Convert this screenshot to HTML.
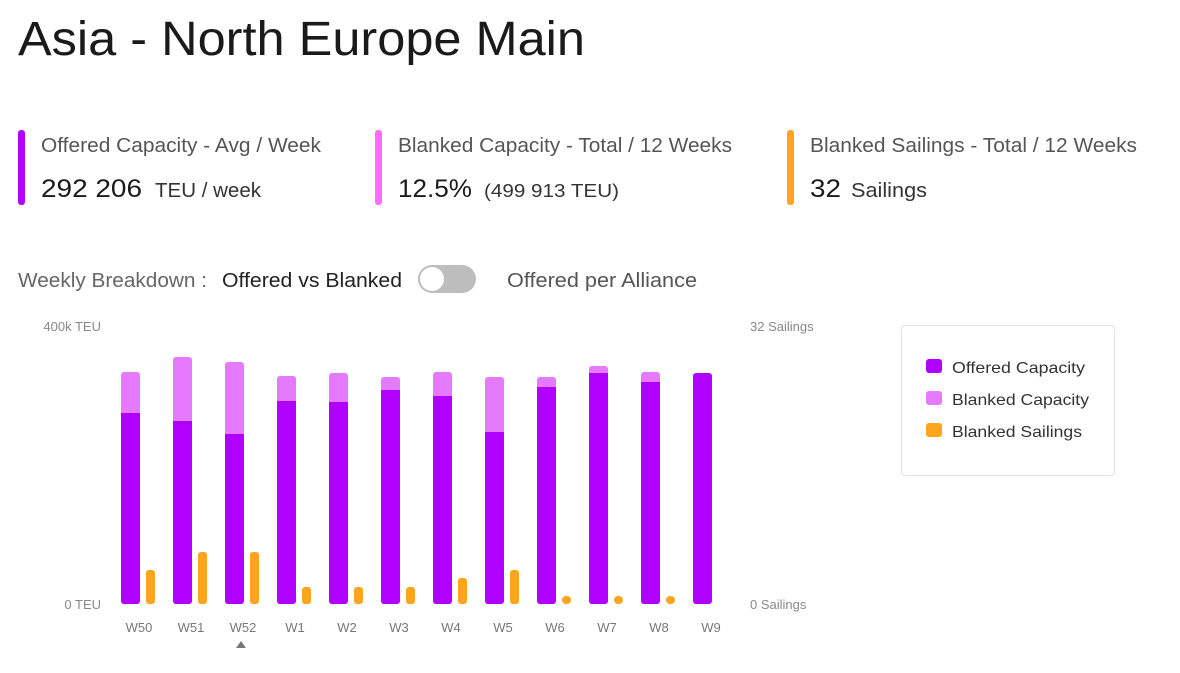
<!DOCTYPE html>
<html><head><meta charset="utf-8"><style>
html,body{margin:0;padding:0;background:#fff;}
svg{display:block;font-family:"Liberation Sans",sans-serif;}
</style></head><body>
<svg width="1180" height="673" viewBox="0 0 1180 673" xmlns="http://www.w3.org/2000/svg">
<text x="18" y="55" font-size="48" fill="#1a1a1a" textLength="567" lengthAdjust="spacingAndGlyphs">Asia - North Europe Main</text>

<rect x="18" y="130" width="7" height="75" rx="3" fill="#b300ff"/>
<text x="41" y="152" font-size="20" fill="#555" textLength="280" lengthAdjust="spacingAndGlyphs">Offered Capacity - Avg / Week</text>
<text x="41" y="197" font-size="25" fill="#1a1a1a" textLength="101" lengthAdjust="spacingAndGlyphs">292 206</text>
<text x="155" y="197" font-size="20" fill="#333" textLength="106" lengthAdjust="spacingAndGlyphs">TEU / week</text>

<rect x="375" y="130" width="7" height="75" rx="3" fill="#ff6bff"/>
<text x="398" y="152" font-size="20" fill="#555" textLength="334" lengthAdjust="spacingAndGlyphs">Blanked Capacity - Total / 12 Weeks</text>
<text x="398" y="197" font-size="25" fill="#1a1a1a" textLength="74" lengthAdjust="spacingAndGlyphs">12.5%</text>
<text x="484" y="197" font-size="18" fill="#333" textLength="135" lengthAdjust="spacingAndGlyphs">(499 913 TEU)</text>

<rect x="787" y="130" width="7" height="75" rx="3" fill="#ffa41f"/>
<text x="810" y="152" font-size="20" fill="#555" textLength="327" lengthAdjust="spacingAndGlyphs">Blanked Sailings - Total / 12 Weeks</text>
<text x="810" y="197" font-size="25" fill="#1a1a1a" textLength="31" lengthAdjust="spacingAndGlyphs">32</text>
<text x="851" y="197" font-size="20" fill="#333" textLength="76" lengthAdjust="spacingAndGlyphs">Sailings</text>

<text x="18" y="287" font-size="20" fill="#666" textLength="189" lengthAdjust="spacingAndGlyphs">Weekly Breakdown :</text>
<text x="222" y="287" font-size="20" fill="#222" textLength="180" lengthAdjust="spacingAndGlyphs">Offered vs Blanked</text>
<rect x="418" y="265" width="58" height="28" rx="14" fill="#bdbdbd"/>
<circle cx="432" cy="279" r="12" fill="#fff"/>
<text x="507" y="287" font-size="20" fill="#555" textLength="190" lengthAdjust="spacingAndGlyphs">Offered per Alliance</text>

<g font-size="13" fill="#888">
<text x="101" y="331" text-anchor="end">400k TEU</text>
<text x="101" y="609" text-anchor="end">0 TEU</text>
<text x="750" y="331">32 Sailings</text>
<text x="750" y="609">0 Sailings</text>
</g>

<g id="bars">
<!-- W50 --><rect x="121" y="372" width="19" height="232" rx="3" fill="#e67aff"/><rect x="121" y="413" width="19" height="191" rx="3" fill="#b000ff"/><rect x="121" y="413" width="19" height="5" fill="#b000ff"/><rect x="146" y="570" width="9" height="34" rx="3" fill="#ffa41f"/>
<!-- W51 --><rect x="173" y="357" width="19" height="247" rx="3" fill="#e67aff"/><rect x="173" y="421" width="19" height="183" rx="3" fill="#b000ff"/><rect x="173" y="421" width="19" height="5" fill="#b000ff"/><rect x="198" y="552" width="9" height="52" rx="3" fill="#ffa41f"/>
<!-- W52 --><rect x="225" y="362" width="19" height="242" rx="3" fill="#e67aff"/><rect x="225" y="434" width="19" height="170" rx="3" fill="#b000ff"/><rect x="225" y="434" width="19" height="5" fill="#b000ff"/><rect x="250" y="552" width="9" height="52" rx="3" fill="#ffa41f"/>
<!-- W1 --><rect x="277" y="376" width="19" height="228" rx="3" fill="#e67aff"/><rect x="277" y="401" width="19" height="203" rx="3" fill="#b000ff"/><rect x="277" y="401" width="19" height="5" fill="#b000ff"/><rect x="302" y="587" width="9" height="17" rx="3" fill="#ffa41f"/>
<!-- W2 --><rect x="329" y="373" width="19" height="231" rx="3" fill="#e67aff"/><rect x="329" y="402" width="19" height="202" rx="3" fill="#b000ff"/><rect x="329" y="402" width="19" height="5" fill="#b000ff"/><rect x="354" y="587" width="9" height="17" rx="3" fill="#ffa41f"/>
<!-- W3 --><rect x="381" y="377" width="19" height="227" rx="3" fill="#e67aff"/><rect x="381" y="390" width="19" height="214" rx="3" fill="#b000ff"/><rect x="381" y="390" width="19" height="5" fill="#b000ff"/><rect x="406" y="587" width="9" height="17" rx="3" fill="#ffa41f"/>
<!-- W4 --><rect x="433" y="372" width="19" height="232" rx="3" fill="#e67aff"/><rect x="433" y="396" width="19" height="208" rx="3" fill="#b000ff"/><rect x="433" y="396" width="19" height="5" fill="#b000ff"/><rect x="458" y="578" width="9" height="26" rx="3" fill="#ffa41f"/>
<!-- W5 --><rect x="485" y="377" width="19" height="227" rx="3" fill="#e67aff"/><rect x="485" y="432" width="19" height="172" rx="3" fill="#b000ff"/><rect x="485" y="432" width="19" height="5" fill="#b000ff"/><rect x="510" y="570" width="9" height="34" rx="3" fill="#ffa41f"/>
<!-- W6 --><rect x="537" y="377" width="19" height="227" rx="3" fill="#e67aff"/><rect x="537" y="387" width="19" height="217" rx="3" fill="#b000ff"/><rect x="537" y="387" width="19" height="5" fill="#b000ff"/><rect x="562" y="596" width="9" height="8" rx="4" fill="#ffa41f"/>
<!-- W7 --><rect x="589" y="366" width="19" height="238" rx="3" fill="#e67aff"/><rect x="589" y="373" width="19" height="231" rx="3" fill="#b000ff"/><rect x="589" y="373" width="19" height="4" fill="#b000ff"/><rect x="614" y="596" width="9" height="8" rx="4" fill="#ffa41f"/>
<!-- W8 --><rect x="641" y="372" width="19" height="232" rx="3" fill="#e67aff"/><rect x="641" y="382" width="19" height="222" rx="3" fill="#b000ff"/><rect x="641" y="382" width="19" height="5" fill="#b000ff"/><rect x="666" y="596" width="9" height="8" rx="4" fill="#ffa41f"/>
<!-- W9 --><rect x="693" y="373" width="19" height="231" rx="3" fill="#b000ff"/>
</g>

<g font-size="13" fill="#777" text-anchor="middle">
<text x="139" y="632">W50</text><text x="191" y="632">W51</text><text x="243" y="632">W52</text>
<text x="295" y="632">W1</text><text x="347" y="632">W2</text><text x="399" y="632">W3</text>
<text x="451" y="632">W4</text><text x="503" y="632">W5</text><text x="555" y="632">W6</text>
<text x="607" y="632">W7</text><text x="659" y="632">W8</text><text x="711" y="632">W9</text>
</g>
<polygon points="236,648 246,648 241,641" fill="#777"/>

<rect x="901.5" y="325.5" width="213" height="150" rx="3" fill="#fff" stroke="#e3e3e3"/>
<rect x="926" y="359" width="16" height="14" rx="3" fill="#b000ff"/>
<rect x="926" y="391" width="16" height="14" rx="3" fill="#e67aff"/>
<rect x="926" y="423" width="16" height="14" rx="3" fill="#ffa41f"/>
<g font-size="16" fill="#333">
<text x="952" y="373" textLength="133" lengthAdjust="spacingAndGlyphs">Offered Capacity</text>
<text x="952" y="405" textLength="137" lengthAdjust="spacingAndGlyphs">Blanked Capacity</text>
<text x="952" y="437" textLength="130" lengthAdjust="spacingAndGlyphs">Blanked Sailings</text>
</g>
</svg>
</body></html>
